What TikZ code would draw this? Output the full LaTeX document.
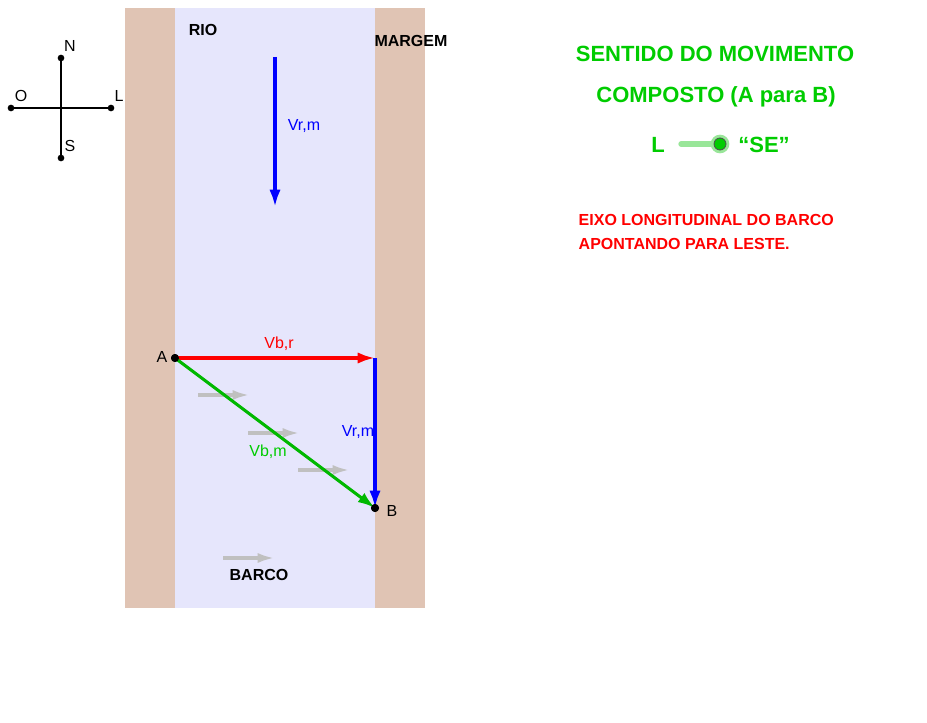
\documentclass[tikz,border=0pt]{standalone}
\usepackage{fontspec}
\setmainfont{Liberation Sans}
\usetikzlibrary{arrows.meta}
\definecolor{bank}{HTML}{E0C4B4}
\definecolor{water}{HTML}{E6E6FC}
\definecolor{grn}{HTML}{00CC00}
\definecolor{lgrn}{HTML}{99E699}
\definecolor{gry}{HTML}{C0C0C0}
\begin{document}
\begin{tikzpicture}[x=0.75pt,y=-0.75pt,
  dot/.style={circle,fill=black,inner sep=0pt,minimum size=6pt},
  cdot/.style={circle,fill=black,inner sep=0pt,minimum size=5pt},
  lbl/.style={font=\fontsize{12}{14}\selectfont},
  blbl/.style={font=\bfseries\fontsize{12}{14}\selectfont},
  vecarrow/.style={line width=2.6pt,-{Latex[length=13pt,width=8.5pt]}},
  grayarrow/.style={line width=2.6pt,draw=gry,-{Latex[length=13pt,width=7.5pt]}},
  head/.style={font=\bfseries\fontsize{16.5}{18}\selectfont,text=grn}]
\useasboundingbox (0,0) rectangle (927,723);
\fill[white] (0,0) rectangle (927,723);
% banks and river
\fill[bank] (125,8) rectangle (175,608);
\fill[bank] (375,8) rectangle (425,608);
\fill[water] (175,8) rectangle (375,608);
% compass
\node[cdot] (cn) at (61,58) {};
\node[cdot] (cs) at (61,158) {};
\node[cdot] (co) at (11,108) {};
\node[cdot] (cl) at (111,108) {};
\draw[line width=1.8pt] (cn.center) -- (cs.center);
\draw[line width=1.8pt] (co.center) -- (cl.center);
\node[lbl] (tn) at (70,46) {N};
\node[lbl] (to) at (21,96) {O};
\node[lbl] (tl) at (119,96) {L};
\node[lbl] (ts) at (70,146) {S};
% labels
\node[blbl] (rio) at (203,30) {RIO};
\node[blbl] (mar) at (411,41) {MARGEM};
% river current vector
\coordinate (r1) at (275,57);
\coordinate (r2) at (275,207);
\draw[vecarrow,draw=blue,fill=blue] (r1) -- (r2);
\node[lbl,text=blue] (vrm1) at (304,126) {Vr,m};
% gray boat arrows
\coordinate (g1a) at (198,395); \coordinate (g1b) at (250,395);
\coordinate (g2a) at (248,433); \coordinate (g2b) at (300,433);
\coordinate (g3a) at (298,470); \coordinate (g3b) at (350,470);
\coordinate (g4a) at (223,558); \coordinate (g4b) at (275,558);
\draw[grayarrow] (g1a) -- (g1b);
\draw[grayarrow] (g2a) -- (g2b);
\draw[grayarrow] (g3a) -- (g3b);
\draw[grayarrow] (g4a) -- (g4b);
\node[blbl] (barco) at (259,575) {BARCO};
% vectors
\node[dot] (A) at (175,358) {};
\node[dot] (B) at (375,508) {};
\coordinate (C) at (375,358);
\draw[vecarrow,draw=red] (A.center) -- (C);
\draw[vecarrow,draw=blue] (C) -- (B.center);
\draw[vecarrow,line width=2.3pt,draw=grn!90!black] (A.center) -- (B.center);
\node[dot] at (A) {};
\node[dot] at (B) {};
\node[lbl] (la) at (162,357) {A};
\node[lbl] (lb) at (392,511) {B};
\node[lbl,text=red] (vbr) at (279,344) {Vb,r};
\node[lbl,text=blue] (vrm2) at (358,432) {Vr,m};
\node[lbl,text=grn] (vbm) at (268,452) {Vb,m};
% right text
\node[head] (h1) at (715,54) {SENTIDO DO MOVIMENTO};
\node[head] (h2) at (716,97) {COMPOSTO (A para B)};
\node[head] (sl) at (658,145) {L};
\node[head] (sse) at (764,145) {“SE”};
\coordinate (s1) at (681,144);
\node[circle,fill=lgrn,inner sep=0pt,minimum size=14pt] (knobh) at (720,144) {};
\draw[lgrn,line width=4pt,line cap=round] (s1) -- (knobh.center);
\node[circle,fill=grn,draw=black!70,line width=0.6pt,inner sep=0pt,minimum size=9pt] (knob) at (720,144) {};
\node[font=\bfseries\fontsize{12}{18}\selectfont,text=red,align=left,anchor=north west] (eixo) at (574,210) {EIXO LONGITUDINAL DO BARCO\\APONTANDO PARA LESTE.};
\end{tikzpicture}
\end{document}
